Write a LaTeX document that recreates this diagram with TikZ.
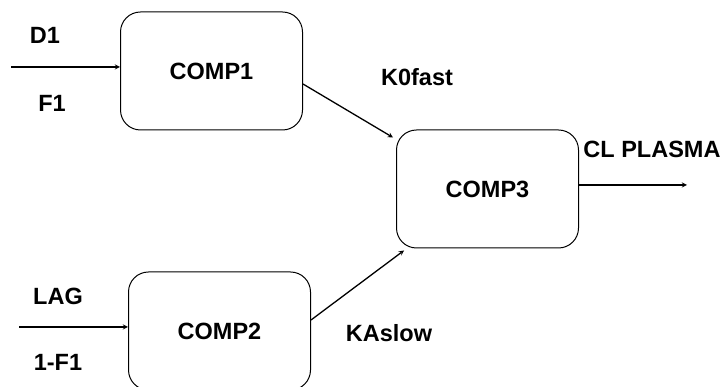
\documentclass[tikz,border=0pt]{standalone}
\usepackage{fontspec}
\setmainfont{Liberation Sans}
\usetikzlibrary{positioning,arrows}

\begin{document}
\begin{tikzpicture}[
    x=1pt, y=1pt,
    comp/.style={rectangle, rounded corners=20pt, draw=black, line width=1pt, minimum width=182pt, minimum height=118pt, font=\fontsize{23.5}{25}\selectfont\bfseries},
    lbl/.style={font=\fontsize{23.5}{25}\selectfont\bfseries},
    arrow/.style={->,>=stealth,line width=1.3pt}
]
\useasboundingbox (0,0) rectangle (725,387);

% Compartments
\node[comp] (comp1) at (211.5,316) {COMP1};
\node[comp] (comp2) at (219.5,56) {COMP2};
\node[comp] (comp3) at (487.5,198) {COMP3};

% Free ends
\coordinate (in1) at (11,320);
\coordinate (in2) at (19,60);
\coordinate (out) at (687,202);

% Labels
\node[lbl] (d1) at (45,352) {D1};
\node[lbl] (f1) at (52,284) {F1};
\node[lbl] (lag) at (58,91) {LAG};
\node[lbl] (onef1) at (58,25) {1-F1};
\node[lbl] (k0fast) at (417,310) {K0fast};
\node[lbl] (kaslow) at (389,54) {KAslow};
\node[lbl] (clplasma) at (652,238) {CL PLASMA};

% Connections
\draw[arrow] (in1) -- (comp1.west |- in1);
\draw[arrow] (in2) -- (comp2.west |- in2);
\draw[arrow] ([yshift=-13pt]comp1.east) -- ([xshift=-3pt,yshift=-8pt]comp3.north west);
\draw[arrow] ([yshift=11pt]comp2.east) -- ([xshift=8pt,yshift=-2pt]comp3.south west);
\draw[arrow] (comp3.east |- out) -- (out);

\end{tikzpicture}
\end{document}
